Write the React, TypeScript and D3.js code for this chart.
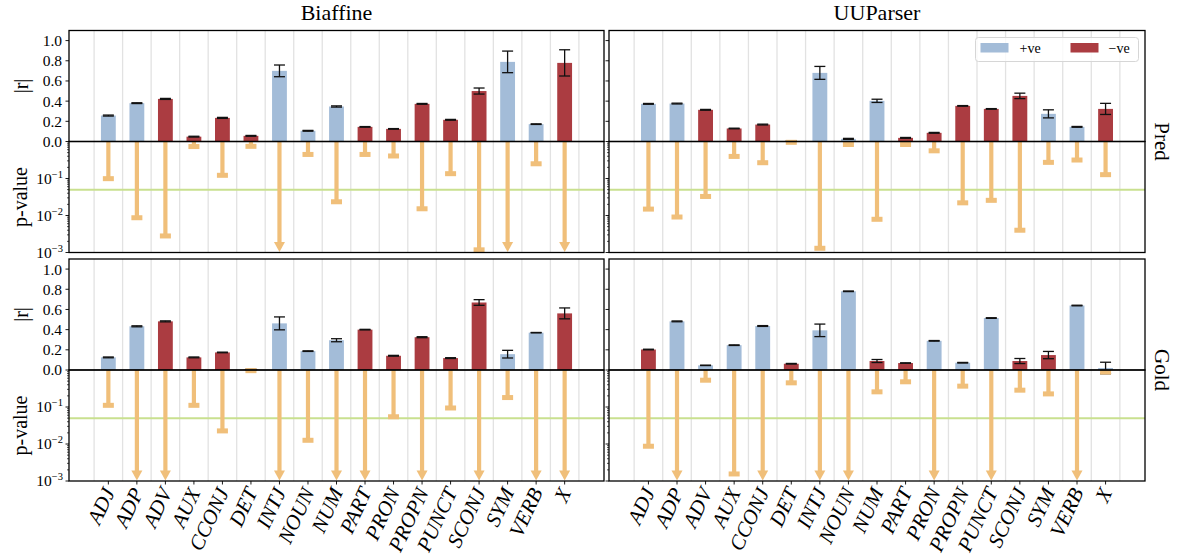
import React from 'react';
import * as d3 from 'd3';

// Universal POS categories
const categories = ['ADJ', 'ADP', 'ADV', 'AUX', 'CCONJ', 'DET', 'INTJ', 'NOUN', 'NUM', 'PART', 'PRON', 'PROPN', 'PUNCT', 'SCONJ', 'SYM', 'VERB', 'X'];
const parsers = ['Biaffine', 'UUParser'];
const settings = ['Pred', 'Gold'];

// Signed correlation r, its error, and the p-value of each category
const biaffinePredR = [0.257, 0.38, -0.422, -0.048, -0.234, -0.056, 0.70, 0.106, 0.347, -0.145, -0.125, -0.373, -0.215, -0.50, 0.789, 0.172, -0.779];
const biaffinePredErr = [0.005, 0.004, 0.005, 0.004, 0.005, 0.004, 0.058, 0.004, 0.006, 0.003, 0.003, 0.004, 0.004, 0.03, 0.107, 0.003, 0.13];
const biaffinePredP = [0.099, 0.0087, 0.0028, 0.73, 0.122, 0.74, 0.0001, 0.447, 0.0235, 0.447, 0.406, 0.0152, 0.135, 0.00118, 0.0001, 0.25, 0.0001];

const uuparserPredR = [0.373, 0.376, -0.314, -0.129, -0.168, -0.003, 0.68, 0.026, 0.403, -0.036, -0.086, -0.353, -0.323, -0.452, 0.274, 0.145, -0.323];
const uuparserPredErr = [0.004, 0.004, 0.004, 0.003, 0.004, 0.002, 0.064, 0.005, 0.016, 0.004, 0.004, 0.003, 0.003, 0.027, 0.04, 0.004, 0.055];
const uuparserPredP = [0.0149, 0.0091, 0.0327, 0.395, 0.267, 0.95, 0.0013, 0.83, 0.0079, 0.83, 0.56, 0.022, 0.0257, 0.004, 0.273, 0.316, 0.127];

const biaffineGoldR = [0.125, 0.433, -0.482, -0.125, -0.174, -0.004, 0.462, 0.187, 0.295, -0.40, -0.141, -0.325, -0.118, -0.669, 0.157, 0.37, -0.561];
const biaffineGoldErr = [0.004, 0.005, 0.005, 0.004, 0.003, 0.004, 0.064, 0.003, 0.015, 0.003, 0.004, 0.005, 0.004, 0.028, 0.038, 0.002, 0.054];
const biaffineGoldP = [0.111, 0.0001, 0.0001, 0.111, 0.0226, 0.96, 0.0001, 0.0126, 0.0001, 0.0001, 0.0545, 0.0001, 0.094, 0.0001, 0.18, 0.0001, 0.0001];

const uuparserGoldR = [-0.203, 0.482, 0.046, 0.246, 0.436, -0.062, 0.393, 0.78, -0.089, -0.069, 0.289, 0.072, 0.515, -0.089, -0.148, 0.639, 0.02];
const uuparserGoldErr = [0.003, 0.004, 0.002, 0.003, 0.004, 0.003, 0.062, 0.003, 0.015, 0.002, 0.003, 0.003, 0.003, 0.025, 0.036, 0.003, 0.057];
const uuparserGoldP = [0.0087, 0.0001, 0.53, 0.00155, 0.0001, 0.45, 0.0001, 0.0001, 0.257, 0.48, 0.0001, 0.366, 0.0001, 0.285, 0.226, 0.0001, 0.88];

const rTicks = [0, 0.2, 0.4, 0.6, 0.8, 1.0];
const pMajorExponents = [-1, -2, -3];
const pThreshold = 0.05;
const pFloor = 1e-3;

const panels = [
  { col: 0, row: 0, r: biaffinePredR, err: biaffinePredErr, p: biaffinePredP },
  { col: 1, row: 0, r: uuparserPredR, err: uuparserPredErr, p: uuparserPredP },
  { col: 0, row: 1, r: biaffineGoldR, err: biaffineGoldErr, p: biaffineGoldP },
  { col: 1, row: 1, r: uuparserGoldR, err: uuparserGoldErr, p: uuparserGoldP },
];

const W = 1178;
const H = 560;
const FONT = '"Liberation Serif", "DejaVu Serif", serif';
const BLUE = '#a3bcd8';
const RED = '#ab3c41';
const ORANGE = '#f0bf7a';
const GREEN = '#c9e08f';
const GRID = '#e2e2e2';

const colX: [number, number][] = [[69, 604], [609, 1145]];
const rowY = [
  { top: 30.5, mid: 141.5, bottom: 252.5 },
  { top: 259, mid: 370, bottom: 481 },
];

const BAR_W = 0.52;
const CAP = 11;

function Panel({ col, row, r, err, p }: { col: number; row: number; r: number[]; err: number[]; p: number[] }) {
  const [x0, x1] = colX[col];
  const { top, mid, bottom } = rowY[row];
  const x = d3.scaleLinear().domain([-1.38, 17.38]).range([x0, x1]);
  const yR = d3.scaleLinear().domain([0, 1.1]).range([mid, top]);
  const yP = d3.scaleLog().domain([1, pFloor]).range([mid, bottom]);
  const bw = x(BAR_W) - x(0);
  const gridXs = d3.range(categories.length + 1).map((i) => x(i - 0.5));
  const minor: number[] = [];
  for (let e = -3; e < 0; e++) for (let k = 2; k <= 9; k++) minor.push(k * Math.pow(10, e));
  const tickDir = -1; // ticks point outward from the left spine
  const showLabels = col === 0;

  return (
    <g>
      {/* vertical grid */}
      {gridXs.map((gx, i) => (
        <line key={'g' + i} x1={gx} x2={gx} y1={top} y2={bottom} stroke={GRID} strokeWidth={1.3} />
      ))}
      {/* significance threshold */}
      <line x1={x0} x2={x1} y1={yP(pThreshold)} y2={yP(pThreshold)} stroke={GREEN} strokeWidth={2} />

      {/* |r| bars */}
      {r.map((v, i) => {
        const a = Math.abs(v);
        return (
          <rect key={'b' + i} x={x(i) - bw / 2} width={bw} y={yR(a)} height={mid - yR(a)} fill={v >= 0 ? BLUE : RED} />
        );
      })}
      {/* error bars */}
      {r.map((v, i) => {
        const a = Math.abs(v);
        const lo = yR(a - err[i]);
        const hi = yR(a + err[i]);
        const cx = x(i);
        return (
          <g key={'e' + i} stroke="#111" strokeWidth={1.3}>
            <line x1={cx} x2={cx} y1={lo} y2={hi} />
            <line x1={cx - CAP / 2} x2={cx + CAP / 2} y1={lo} y2={lo} />
            <line x1={cx - CAP / 2} x2={cx + CAP / 2} y1={hi} y2={hi} />
          </g>
        );
      })}

      {/* p-value stems */}
      {p.map((v, i) => {
        const cx = x(i);
        const below = v < pFloor;
        const yEnd = below ? yP(pFloor) - 5 : yP(v);
        return (
          <g key={'p' + i} fill={ORANGE}>
            <line x1={cx} x2={cx} y1={yP(1)} y2={yEnd} stroke={ORANGE} strokeWidth={4.2} />
            {below ? (
              <path d={`M${cx - 5.5},${yP(pFloor) - 10.5}L${cx + 5.5},${yP(pFloor) - 10.5}L${cx},${yP(pFloor) - 0.5}Z`} />
            ) : (
              <rect x={cx - 5.5} y={yP(v) - 2.5} width={11} height={5} />
            )}
          </g>
        );
      })}

      {/* frames */}
      <rect x={x0} y={top} width={x1 - x0} height={mid - top} fill="none" stroke="#000" strokeWidth={1.3} />
      <rect x={x0} y={mid} width={x1 - x0} height={bottom - mid} fill="none" stroke="#000" strokeWidth={1.3} />

      {/* |r| axis ticks */}
      {rTicks.map((t) => (
        <g key={'rt' + t}>
          <line x1={x0} x2={x0 + tickDir * 3.5} y1={yR(t)} y2={yR(t)} stroke="#000" strokeWidth={0.9} />
          {showLabels && (
            <text x={x0 - 7} y={yR(t)} dy="0.35em" textAnchor="end" fontSize={15.5} fontFamily={FONT}>
              {t.toFixed(1)}
            </text>
          )}
        </g>
      ))}
      {/* p axis ticks */}
      {pMajorExponents.map((e) => (
        <g key={'pt' + e}>
          <line x1={x0} x2={x0 + tickDir * 3.5} y1={yP(Math.pow(10, e))} y2={yP(Math.pow(10, e))} stroke="#000" strokeWidth={0.9} />
          {showLabels && (
            <text x={x0 - 6} y={yP(Math.pow(10, e)) + 5} textAnchor="end" fontSize={15.5} fontFamily={FONT}>
              10<tspan fontSize={10.5} dy={-6}>{'\u2212' + -e}</tspan>
            </text>
          )}
        </g>
      ))}
      {minor.map((m, i) => (
        <line key={'mt' + i} x1={x0} x2={x0 + tickDir * 2} y1={yP(m)} y2={yP(m)} stroke="#000" strokeWidth={0.7} />
      ))}

      {/* category ticks and labels on the bottom row */}
      {row === 1 &&
        categories.map((c, i) => (
          <g key={'xt' + i}>
            <line x1={x(i)} x2={x(i)} y1={bottom} y2={bottom + 3.5} stroke="#000" strokeWidth={0.9} />
            <text
              transform={`translate(${x(i) + 7},${bottom + 11}) rotate(-65)`}
              textAnchor="end"
              fontSize={21}
              fontStyle="italic"
              fontFamily={FONT}
            >
              {c}
            </text>
          </g>
        ))}

      {/* column title */}
      {row === 0 && (
        <text x={(x0 + x1) / 2} y={20} textAnchor="middle" fontSize={22} fontFamily={FONT}>
          {parsers[col]}
        </text>
      )}
      {/* row label */}
      {col === 1 && (
        <text transform={`translate(${x1 + 10},${(top + bottom) / 2}) rotate(90)`} textAnchor="middle" fontSize={21} fontFamily={FONT}>
          {settings[row]}
        </text>
      )}
      {/* axis titles */}
      {col === 0 && (
        <g fontFamily={FONT} fontSize={20}>
          <text transform={`translate(28,${(top + mid) / 2}) rotate(-90)`} textAnchor="middle">|r|</text>
          <text transform={`translate(27,${(mid + bottom) / 2}) rotate(-90)`} textAnchor="middle">p-value</text>
        </g>
      )}
    </g>
  );
}

function Legend() {
  const lx = 975.5;
  const ly = 37.5;
  return (
    <g fontFamily={FONT} fontSize={14}>
      <rect x={lx} y={ly} width={163} height={24} rx={3} fill="#fff" fillOpacity={0.8} stroke="#d6d6d6" strokeWidth={1} />
      <rect x={lx + 5} y={ly + 5.5} width={28} height={9.5} fill={BLUE} />
      <text x={lx + 44} y={ly + 15}>+ve</text>
      <rect x={lx + 95} y={ly + 5.5} width={28} height={9.5} fill={RED} />
      <text x={lx + 133} y={ly + 15}>{'\u2212ve'}</text>
    </g>
  );
}

export default function App() {
  return (
    <svg
      width={W}
      height={H}
      viewBox={`0 0 ${W} ${H}`}
      style={{ position: 'absolute', left: 0, top: 0, display: 'block', background: '#fff' }}
    >
      {panels.map((pn, i) => (
        <Panel key={i} {...pn} />
      ))}
      <Legend />
    </svg>
  );
}
